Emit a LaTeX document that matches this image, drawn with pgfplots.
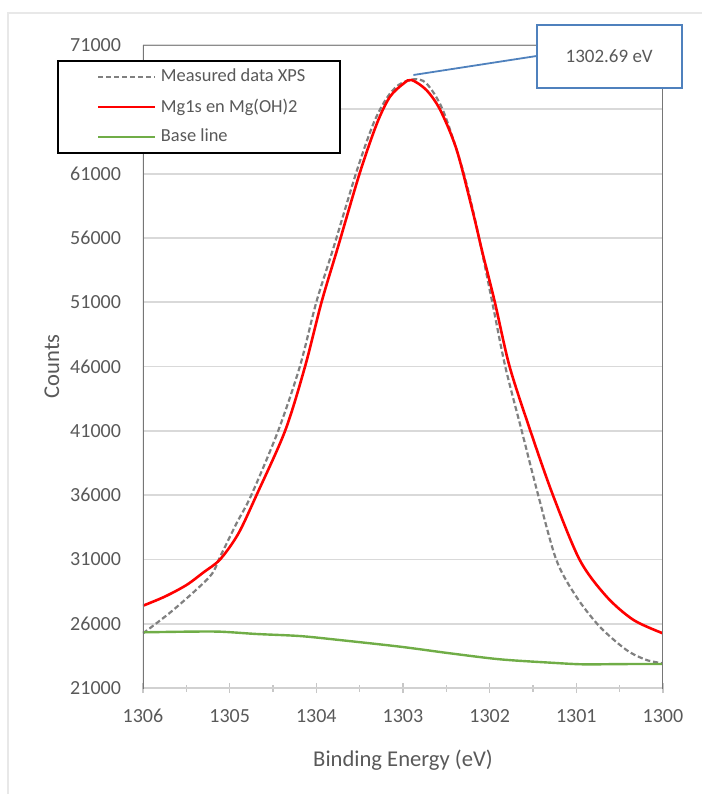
\documentclass[border=0pt]{standalone}
\usepackage{fontspec}
\setmainfont{Carlito}
\usepackage{pgfplots}
\pgfplotsset{compat=1.18}

\definecolor{txt}{HTML}{595959}
\definecolor{gridc}{HTML}{D9D9D9}
\definecolor{sidec}{HTML}{767676}
\definecolor{topc}{HTML}{8C8C8C}
\definecolor{measc}{HTML}{808080}
\definecolor{fitc}{HTML}{FF0000}
\definecolor{basec}{HTML}{70AD47}
\definecolor{callc}{HTML}{4F81BD}

\begin{document}
\begin{tikzpicture}[x=1pt,y=1pt]
\useasboundingbox (0,0) rectangle (351,397);
% faint outer frame of the source figure
\draw[color=black!9, line width=0.6pt] (4,0) -- (4,390.5) -- (351,390.5);

\begin{axis}[
    at={(71.5pt,53pt)}, anchor=south west,
    scale only axis,
    width=260pt, height=321.5pt,
    x dir=reverse,
    xmin=1300, xmax=1306,
    ymin=21000, ymax=71000,
    xtick={1300,1301,1302,1303,1304,1305,1306},
    minor x tick num=1,
    xtick pos=bottom,
    ytick={21000,26000,31000,36000,41000,46000,51000,56000,61000,66000,71000},
    scaled y ticks=false,
    ymajorgrids,
    grid style={color=gridc, line width=0.9pt},
    axis line style={draw=none},
    tick align=center,
    major tick length=5pt, minor tick length=3.5pt,
    xtick style={color=black!22, line width=0.7pt},
    ytick style={draw=none},
    ticklabel style={font=\fontsize{10}{12}\selectfont, text=txt},
    yticklabel style={xshift=-5pt},
    xticklabel style={yshift=-4.5pt},
    /pgf/number format/1000 sep={},
    /pgf/number format/assume math mode=true,
    xlabel={Binding Energy (eV)},
    ylabel={Counts},
    label style={font=\fontsize{11.3}{13}\selectfont, text=txt},
    xlabel style={at={(axis description cs:0.5,-0.112)}, anchor=center},
    ylabel style={at={(axis description cs:-0.175,0.5)}, anchor=center, rotate=0},
    legend style={at={(axis description cs:-0.1654,0.9767)}, anchor=north west,
        draw=black, line width=1pt, fill=white,
        font=\fontsize{9.2}{11}\selectfont, text=txt,
        inner xsep=15.3pt, inner ysep=2pt, row sep=3pt, column sep=0.2pt,
        cells={anchor=west}},
    legend image code/.code={\path (0pt,0pt); \draw[#1] (4.2pt,0pt) -- (32.7pt,0pt);},
]

\addplot[color=measc, line width=1.1pt, dash pattern=on 2.6pt off 1.4pt, smooth, tension=0.5] coordinates {
(1306.00,25250) (1305.65,27070) (1305.23,29660) (1305.11,31210)
(1304.92,33810) (1304.75,36000) (1304.44,41000) (1304.19,46000)
(1304.00,51000) (1303.81,55060) (1303.53,61280) (1303.34,64910)
(1303.19,66850) (1303.05,67900) (1302.88,68330) (1302.73,68020)
(1302.54,65945) (1302.31,61280) (1302.15,56870) (1301.97,51000)
(1301.82,46000) (1301.63,41000) (1301.44,36000) (1301.23,30950)
(1301.00,28100) (1300.73,25770) (1300.42,23950) (1300.19,23180)
(1300.00,22920)
};
\addlegendentry{Measured data XPS}

\addplot[color=fitc, line width=1.3pt, smooth, tension=0.5] coordinates {
(1306.00,27400) (1305.75,28100) (1305.50,29000) (1305.30,30000)
(1305.11,31000) (1304.90,33000) (1304.69,36000) (1304.36,41000)
(1304.13,46000) (1303.94,51000) (1303.75,55300) (1303.50,61020)
(1303.30,64910) (1303.15,66980) (1302.99,68020) (1302.90,68280)
(1302.73,67500) (1302.57,65945) (1302.38,62835) (1302.19,57910)
(1302.09,55060) (1301.94,51000) (1301.77,46000) (1301.53,41000)
(1301.27,36000) (1300.96,30950) (1300.65,28100) (1300.34,26290)
(1300.00,25250)
};
\addlegendentry{Mg1s en Mg(OH)2}

\addplot[color=basec, line width=1.2pt, smooth, tension=0.5] coordinates {
(1306.00,25330) (1305.50,25380) (1305.11,25380) (1304.69,25200)
(1304.19,25040) (1303.73,24730) (1303.03,24210) (1302.46,23700)
(1301.88,23230) (1301.30,22970) (1300.92,22840) (1300.50,22860)
(1300.00,22870)
};
\addlegendentry{Base line}

% axis frame as in the source: dark sides, grey top, light bottom
\draw[color=black!18, line width=0.8pt] (axis description cs:0,0) -- (axis description cs:1,0);
\draw[color=topc, line width=1.1pt] (axis description cs:0,1) -- (axis description cs:1,1);
\draw[color=sidec, line width=1.3pt] (axis description cs:0,-0.004) -- (axis description cs:0,1.002);
\draw[color=sidec, line width=1.3pt] (axis description cs:1,-0.006) -- (axis description cs:1,1.002);
\end{axis}

% callout for the peak position
\draw[color=callc, line width=0.9pt] (268.3,369) -- (206.7,359.5);
\node[draw=callc, line width=1pt, fill=white, minimum width=72.5pt, minimum height=31.7pt,
      font=\fontsize{9.5}{11}\selectfont, text=txt] at (304.6,368.7) {1302.69 eV};
\end{tikzpicture}
\end{document}
